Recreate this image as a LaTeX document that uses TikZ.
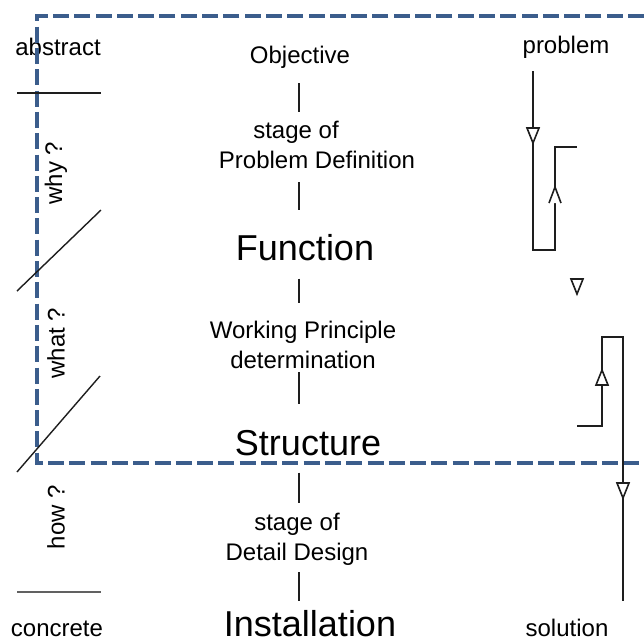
\documentclass[tikz,border=0pt]{standalone}
\usepackage{fontspec}
\setmainfont{Liberation Sans}
\usetikzlibrary{calc}
\definecolor{frameblue}{RGB}{59,93,140}
\definecolor{ink}{RGB}{30,30,30}
\begin{document}
\begin{tikzpicture}[x=1pt,y=-1pt,
  lbl/.style={inner sep=0pt, anchor=base, font=\fontsize{24}{30}\selectfont},
  big/.style={inner sep=0pt, anchor=base, font=\fontsize{36}{40}\selectfont},
  two/.style={lbl, align=center},
  side/.style={inner sep=0pt, anchor=center, rotate=90, font=\fontsize{24}{30}\selectfont},
  stem/.style={line width=1.7pt, ink},
  rulerline/.style={line width=1.4pt, ink},
  flow/.style={line width=1.4pt, ink},
  frame/.style={line width=4pt, frameblue, dash pattern=on 16pt off 5.3pt},
  downtri/.pic={\draw[flow, line width=1.6pt, fill=white] (-6,-7) -- (6,-7) -- (0,8) -- cycle;},
  uptri/.pic={\draw[flow, line width=1.6pt, fill=white] (-6,7) -- (6,7) -- (0,-8) -- cycle;},
  chevron/.pic={\fill[white] (-6,8) -- (6,8) -- (0,-8) -- cycle;
                \draw[flow, line width=1.6pt] (-6,8) -- (0,-8) -- (6,8);}
]
\useasboundingbox (0,0) rectangle (644,641);

% level scale on the left
\node[lbl] (abs) at (58,55) {abstract};
\node[lbl] (con) at (57,636) {concrete};
\node[side] (why) at (56,173) {why ?};
\node[side] (what) at (56,343) {what ?};
\node[side] (how) at (56,517) {how ?};

% main sequence of stages (two-line labels sit on the baseline of their last line)
\coordinate (sp) at (299,0);
\node[lbl] (obj) at (300,63) {Objective};
\node[two] (pd) at (317,168) {\makebox[\dimexpr\width+42pt\relax][l]{stage of}\\Problem Definition};
\node[big] (fun) at (305,260) {Function};
\node[two] (wp) at (303,368) {Working Principle\\determination};
\node[big] (str) at (308,455) {Structure};
\node[two] (dd) at (297,560) {stage of\\Detail Design};
\node[big] (ins) at (310,636) {Installation};

\draw[stem, shorten <=15pt, shorten >=8.5pt] (obj.south -| sp) -- (pd.north -| sp);
\draw[stem, shorten <=14pt, shorten >=24pt] (pd.south -| sp) -- (fun.north -| sp);
\draw[stem, shorten <=18pt, shorten >=17pt] (fun.south -| sp) -- (wp.north -| sp);
\draw[stem, shorten <=4pt, shorten >=26pt] (wp.south -| sp) -- (str.north -| sp);
\draw[stem, shorten <=17pt, shorten >=9.5pt] (str.south -| sp) -- (dd.north -| sp);
\draw[stem, shorten <=7pt, shorten >=9pt] (dd.south -| sp) -- (ins.north -| sp);

% problem / solution side
\node[lbl] (prob) at (566,53) {problem};
\node[lbl] (sol) at (567,636) {solution};

% dashed frame around the upper part
\draw[frame] (644,16) -- (37,16) -- (37,463) -- (644,463);

% separators of the scale
\coordinate (r1a) at (17,93);  \coordinate (r1b) at (101,93);
\coordinate (d1a) at (101,210); \coordinate (d1b) at (17,291);
\coordinate (d2a) at (100,376); \coordinate (d2b) at (17,472);
\coordinate (r2a) at (17,592); \coordinate (r2b) at (101,592);
\draw[rulerline] (r1a) -- (r1b);
\draw[rulerline] (d1a) -- (d1b);
\draw[rulerline] (d2a) -- (d2b);
\draw[rulerline, ink!70, line width=1.1pt] (r2a) -- (r2b);

% iteration path from problem to solution
\coordinate (p0) at (533,71);
\coordinate (p1) at (533,250);
\coordinate (p2) at (555,250);
\coordinate (p3) at (555,147);
\coordinate (p4) at (577,147);
\draw[flow] (p0) -- (p1) -- (p2) -- (p3) -- (p4);
\pic at (533,135) {downtri};
\pic at (555,195) {chevron};
\pic at (577,286) {downtri};

\coordinate (q0) at (577,426);
\coordinate (q1) at (602,426);
\coordinate (q2) at (602,337);
\coordinate (q3) at (623,337);
\coordinate (q4) at (623,601);
\draw[flow] (q0) -- (q1) -- (q2) -- (q3) -- (q4);
\pic at (602,378) {uptri};
\pic at (623,490) {downtri};
\end{tikzpicture}
\end{document}
